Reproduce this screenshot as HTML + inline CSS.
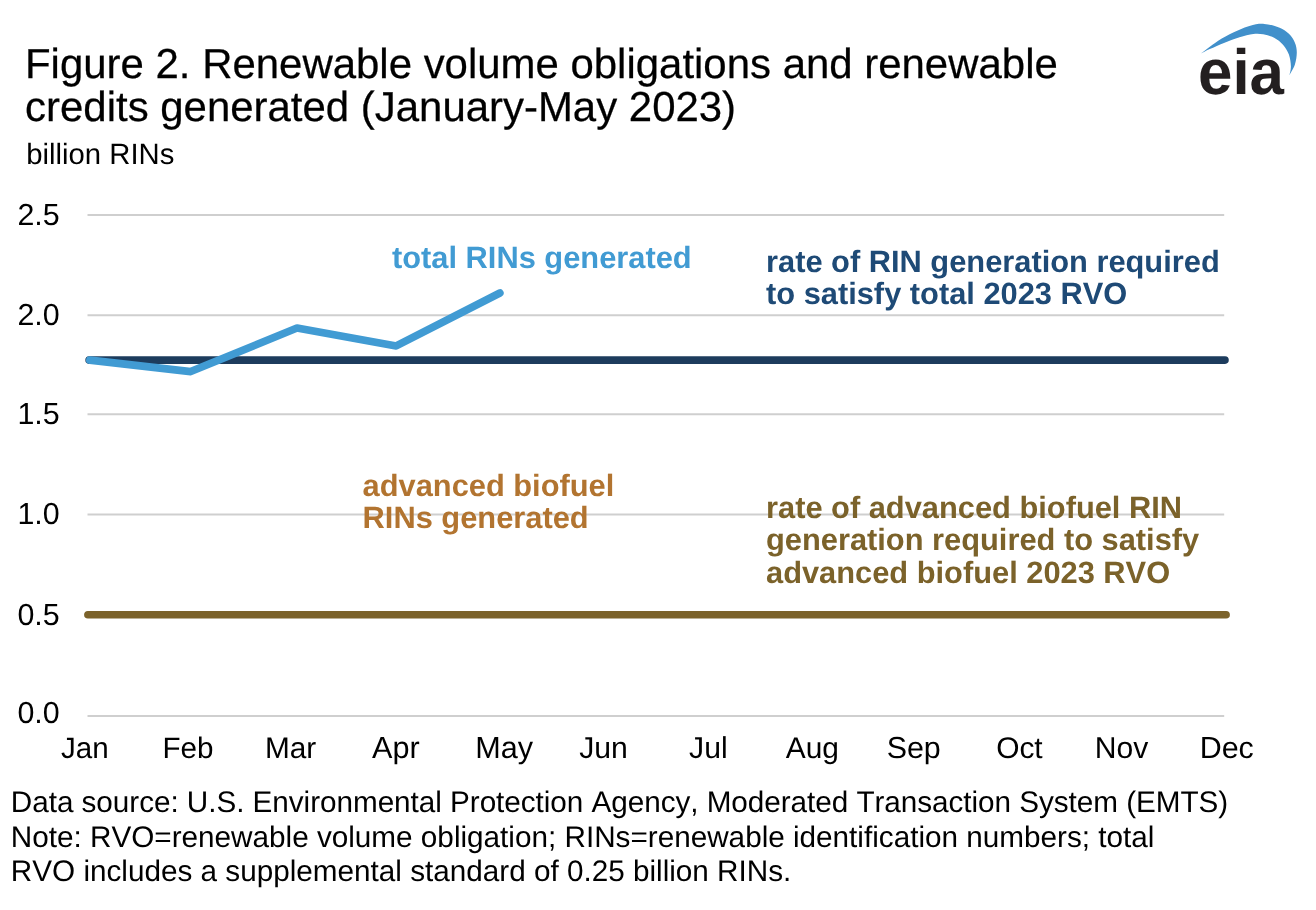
<!DOCTYPE html>
<html><head><meta charset="utf-8"><title>Figure 2</title>
<style>
html,body{margin:0;padding:0;background:#fff;}
svg{display:block;font-family:"Liberation Sans",Arial,sans-serif;font-kerning:none;text-rendering:geometricPrecision;}
.t{font-size:41.95px;fill:#000;stroke:#000;stroke-width:0.25px;}
.u{font-size:29.3px;fill:#000;}
.ax{font-size:30.7px;fill:#000;}
.ft{font-size:29.7px;fill:#000;}
.lb{font-size:30.82px;font-weight:bold;}
.g{stroke:#cfcfcf;stroke-width:2;}
</style></head>
<body>
<svg width="1316" height="910" viewBox="0 0 1316 910">
<rect width="1316" height="910" fill="#fff"/>
<text class="t" x="25.0" y="77.85">Figure 2. Renewable volume obligations and renewable</text>
<text class="t" x="25.1" y="121.2">credits generated (January-May 2023)</text>
<text class="u" x="26.2" y="164.1">billion RINs</text>
<!-- logo -->
<path d="M1200.9,53.6C1203.2,51.9 1209.9,46.4 1214.7,43.2C1219.5,40.0 1223.8,37.2 1229.6,34.3C1235.4,31.4 1243.6,27.6 1249.4,25.9C1255.2,24.2 1259.3,23.6 1264.2,23.9C1269.1,24.1 1274.9,25.8 1279.0,27.4C1283.1,29.0 1286.2,31.2 1288.9,33.8C1291.6,36.3 1293.6,39.6 1294.9,42.7C1296.2,45.8 1296.8,49.0 1296.8,52.6C1296.8,56.2 1296.1,60.7 1294.9,64.5C1293.7,68.3 1290.3,73.4 1289.4,75.2C1289.7,73.7 1291.0,69.8 1290.9,66.4C1290.8,63.0 1290.2,58.2 1288.9,54.6C1287.6,51.0 1285.5,47.5 1283.0,44.7C1280.5,41.9 1277.4,39.5 1274.1,37.8C1270.8,36.1 1266.7,34.9 1263.2,34.3C1259.7,33.7 1257.2,33.5 1253.3,34.0C1249.3,34.5 1244.3,35.8 1239.5,37.3C1234.7,38.8 1229.5,40.7 1224.6,42.7C1219.6,44.7 1213.8,47.3 1209.8,49.1C1205.8,50.9 1202.4,52.9 1200.9,53.6Z" fill="#4190cb"/>
<text x="1198" y="94" font-size="64" font-weight="bold" fill="#231f20" textLength="86" lengthAdjust="spacingAndGlyphs">eia</text>
<!-- grid -->
<g class="g">
<line x1="87.5" x2="1224.2" y1="215.0" y2="215.0"/>
<line x1="87.5" x2="1224.2" y1="315.2" y2="315.2"/>
<line x1="87.5" x2="1224.2" y1="414.2" y2="414.2"/>
<line x1="87.5" x2="1224.2" y1="514.5" y2="514.5"/>
<line x1="87.5" x2="1224.2" y1="615.5" y2="615.5"/>
<line x1="87.5" x2="1224.2" y1="716.1" y2="716.1"/>
</g>
<g class="ax" style="font-size:30.4px">
<text x="17.4" y="224.8">2.5</text>
<text x="17.4" y="325.1">2.0</text>
<text x="17.4" y="423.6">1.5</text>
<text x="17.4" y="523.7">1.0</text>
<text x="17.4" y="625.1">0.5</text>
<text x="17.4" y="723.0">0.0</text>
</g>
<g class="ax" text-anchor="middle">
<text x="84.9" y="758.4" font-size="29.6">Jan</text>
<text x="187.9" y="758.4" font-size="29.6">Feb</text>
<text x="290.6" y="758.4" font-size="29.8">Mar</text>
<text x="395.9" y="758.4" font-size="30.6">Apr</text>
<text x="504.1" y="758.4" font-size="30.6">May</text>
<text x="603.5" y="758.4" font-size="30.2">Jun</text>
<text x="708.4" y="758.4" font-size="30.2">Jul</text>
<text x="812.4" y="758.4" font-size="29.9">Aug</text>
<text x="913.7" y="758.4" font-size="30.4">Sep</text>
<text x="1019.4" y="758.4" font-size="29.9">Oct</text>
<text x="1121.5" y="758.4" font-size="30.1">Nov</text>
<text x="1226.8" y="758.4" font-size="30.4">Dec</text>
</g>
<!-- lines -->
<line x1="89.1" x2="1225" y1="360.1" y2="360.1" stroke="#1d3c5d" stroke-width="7.6" stroke-linecap="round"/>
<line x1="87.9" x2="1226.1" y1="614.8" y2="614.8" stroke="#7b622a" stroke-width="7.6" stroke-linecap="round"/>
<polyline points="89.8,360.1 190.7,371.6 297,328 396.2,345.9 499.9,293" fill="none" stroke="#419bd3" stroke-width="7.6" stroke-linecap="round" stroke-linejoin="round"/>
<!-- labels -->
<text class="lb" x="392" y="267.7" fill="#419bd3">total RINs generated</text>
<text class="lb" fill="#1e4a76" x="766" y="271.5">rate of RIN generation required</text>
<text class="lb" fill="#1e4a76" x="766" y="304">to satisfy total 2023 RVO</text>
<text class="lb" fill="#b27430" x="362.6" y="495.5">advanced biofuel</text>
<text class="lb" fill="#b27430" x="362.6" y="527.5">RINs generated</text>
<text class="lb" fill="#7b622a" x="766" y="517.8">rate of advanced biofuel RIN</text>
<text class="lb" fill="#7b622a" x="766" y="550.4">generation required to satisfy</text>
<text class="lb" fill="#7b622a" x="766" y="583">advanced biofuel 2023 RVO</text>
<!-- footer -->
<g class="ft">
<text x="10.8" y="812.45" textLength="1217.4" lengthAdjust="spacing">Data source: U.S. Environmental Protection Agency, Moderated Transaction System (EMTS)</text>
<text x="10.8" y="846.85">Note: RVO=renewable volume obligation; RINs=renewable identification numbers; total</text>
<text x="10.8" y="881.45">RVO includes a supplemental standard of 0.25 billion RINs.</text>
</g>
</svg>
</body></html>
